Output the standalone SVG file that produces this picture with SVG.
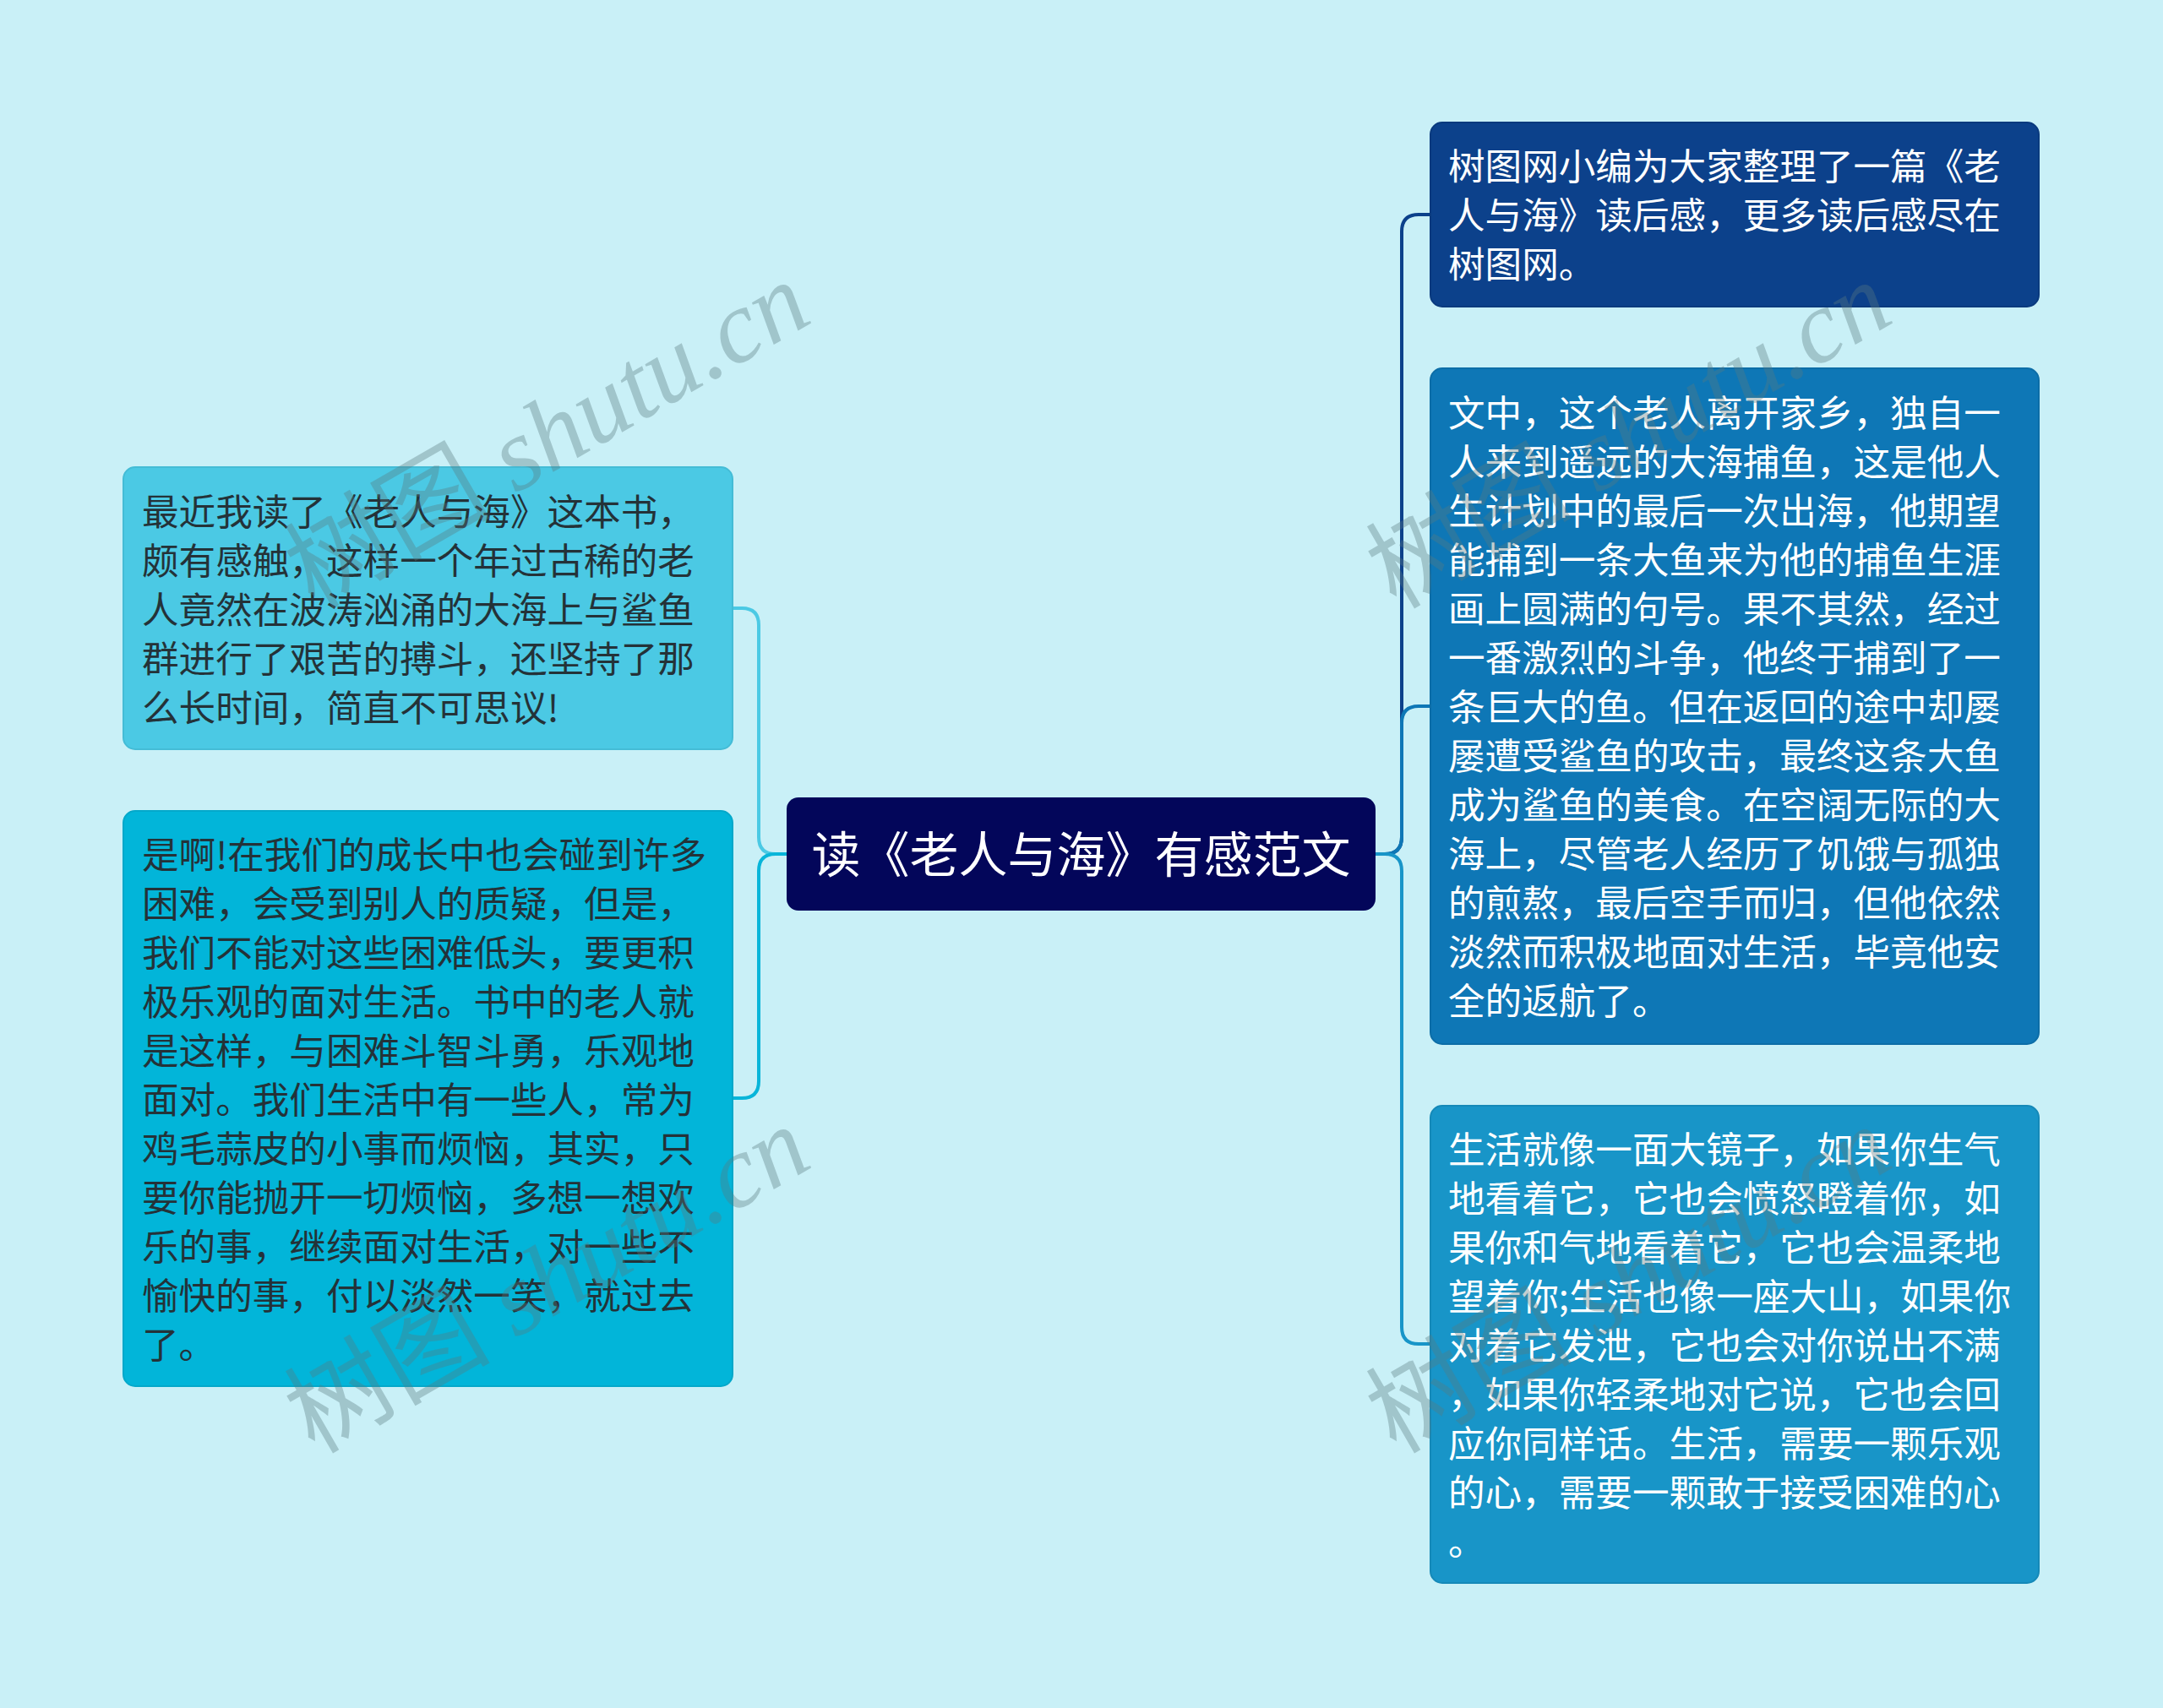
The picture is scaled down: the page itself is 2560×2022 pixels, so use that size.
<svg xmlns="http://www.w3.org/2000/svg" width="2560" height="2022" viewBox="0 0 2560 2022">
<style>
.t{font-family:"Noto Sans CJK SC","Noto Sans",sans-serif;font-size:43.6px}
.w{fill:#ffffff}
.d{fill:#243238}
.c{fill:none;stroke-width:4;stroke-linejoin:round}
.wm{font-family:"Liberation Serif","Noto Sans CJK SC",serif;font-size:122px;fill:#5a7a80;opacity:0.36}
</style>
<rect x="0" y="0" width="2560" height="2022" fill="#c9f0f7"/>
<g id="connectors">
<path class="c" stroke="#0c418b" d="M1628,1011 H1639 Q1659,1011 1659,991 V274 Q1659,254 1679,254 H1693"/>
<path class="c" stroke="#0e77b6" d="M1628,1011 H1639 Q1659,1011 1659,991 V856 Q1659,836 1679,836 H1693"/>
<path class="c" stroke="#1895c8" d="M1628,1011 H1639 Q1659,1011 1659,1031 V1571 Q1659,1591 1679,1591 H1693"/>
<path class="c" stroke="#4bc9e4" d="M931,1011 H918 Q898,1011 898,991 V740 Q898,720 878,720 H867"/>
<path class="c" stroke="#08b5d9" d="M931,1011 H918 Q898,1011 898,1031 V1280 Q898,1300 878,1300 H867"/>
</g>
<g id="center">
<rect x="931" y="944" width="697" height="134" rx="14" fill="#03065a"/>
<text x="1279.5" y="1033" text-anchor="middle" font-family="Noto Sans CJK SC, sans-serif" font-size="58" fill="#ffffff">读《老人与海》有感范文</text>
</g>
<g id="r1">
<rect x="1693" y="145" width="720" height="218" rx="14" fill="#0c418b" stroke="#0a3a7e" stroke-width="2"/>
<text class="t w" x="1714"><tspan x="1714" y="213">树图网小编为大家整理了一篇《老</tspan><tspan x="1714" y="271">人与海》读后感，更多读后感尽在</tspan><tspan x="1714" y="329">树图网。</tspan></text>
</g>
<g id="r2">
<rect x="1693" y="436" width="720" height="800" rx="14" fill="#0e77b6" stroke="#0c6da7" stroke-width="2"/>
<text class="t w" x="1714"><tspan x="1714" y="505">文中，这个老人离开家乡，独自一</tspan><tspan x="1714" y="563">人来到遥远的大海捕鱼，这是他人</tspan><tspan x="1714" y="621">生计划中的最后一次出海，他期望</tspan><tspan x="1714" y="679">能捕到一条大鱼来为他的捕鱼生涯</tspan><tspan x="1714" y="737">画上圆满的句号。果不其然，经过</tspan><tspan x="1714" y="795">一番激烈的斗争，他终于捕到了一</tspan><tspan x="1714" y="853">条巨大的鱼。但在返回的途中却屡</tspan><tspan x="1714" y="911">屡遭受鲨鱼的攻击，最终这条大鱼</tspan><tspan x="1714" y="969">成为鲨鱼的美食。在空阔无际的大</tspan><tspan x="1714" y="1027">海上，尽管老人经历了饥饿与孤独</tspan><tspan x="1714" y="1085">的煎熬，最后空手而归，但他依然</tspan><tspan x="1714" y="1143">淡然而积极地面对生活，毕竟他安</tspan><tspan x="1714" y="1201">全的返航了。</tspan></text>
</g>
<g id="r3">
<rect x="1693" y="1309" width="720" height="565" rx="14" fill="#1895c8" stroke="#1589b8" stroke-width="2"/>
<text class="t w" x="1714"><tspan x="1714" y="1377">生活就像一面大镜子，如果你生气</tspan><tspan x="1714" y="1435">地看着它，它也会愤怒瞪着你，如</tspan><tspan x="1714" y="1493">果你和气地看着它，它也会温柔地</tspan><tspan x="1714" y="1551">望着你;生活也像一座大山，如果你</tspan><tspan x="1714" y="1609">对着它发泄，它也会对你说出不满</tspan><tspan x="1714" y="1667">，如果你轻柔地对它说，它也会回</tspan><tspan x="1714" y="1725">应你同样话。生活，需要一颗乐观</tspan><tspan x="1714" y="1783">的心，需要一颗敢于接受困难的心</tspan><tspan x="1714" y="1841">。</tspan></text>
</g>
<g id="l1">
<rect x="146" y="553" width="721" height="334" rx="14" fill="#4bc9e4" stroke="#44bcd6" stroke-width="2"/>
<text class="t d" x="168"><tspan x="168" y="622">最近我读了《老人与海》这本书，</tspan><tspan x="168" y="680">颇有感触，这样一个年过古稀的老</tspan><tspan x="168" y="738">人竟然在波涛汹涌的大海上与鲨鱼</tspan><tspan x="168" y="796">群进行了艰苦的搏斗，还坚持了那</tspan><tspan x="168" y="854">么长时间，简直不可思议!</tspan></text>
</g>
<g id="l2">
<rect x="146" y="960" width="721" height="681" rx="14" fill="#02b5d9" stroke="#04a8ca" stroke-width="2"/>
<text class="t d" x="168"><tspan x="168" y="1028">是啊!在我们的成长中也会碰到许多</tspan><tspan x="168" y="1086">困难，会受到别人的质疑，但是，</tspan><tspan x="168" y="1144">我们不能对这些困难低头，要更积</tspan><tspan x="168" y="1202">极乐观的面对生活。书中的老人就</tspan><tspan x="168" y="1260">是这样，与困难斗智斗勇，乐观地</tspan><tspan x="168" y="1318">面对。我们生活中有一些人，常为</tspan><tspan x="168" y="1376">鸡毛蒜皮的小事而烦恼，其实，只</tspan><tspan x="168" y="1434">要你能抛开一切烦恼，多想一想欢</tspan><tspan x="168" y="1492">乐的事，继续面对生活，对一些不</tspan><tspan x="168" y="1550">愉快的事，付以淡然一笑，就过去</tspan><tspan x="168" y="1608">了。</tspan></text>
</g>
<g id="watermarks">
<text class="wm" transform="translate(372,722) rotate(-30)">树图 <tspan font-style="italic">shutu.cn</tspan></text>
<text class="wm" transform="translate(1652,722) rotate(-30)">树图 <tspan font-style="italic">shutu.cn</tspan></text>
<text class="wm" transform="translate(372,1722) rotate(-30)">树图 <tspan font-style="italic">shutu.cn</tspan></text>
<text class="wm" transform="translate(1652,1722) rotate(-30)">树图 <tspan font-style="italic">shutu.cn</tspan></text>
</g>
</svg>
